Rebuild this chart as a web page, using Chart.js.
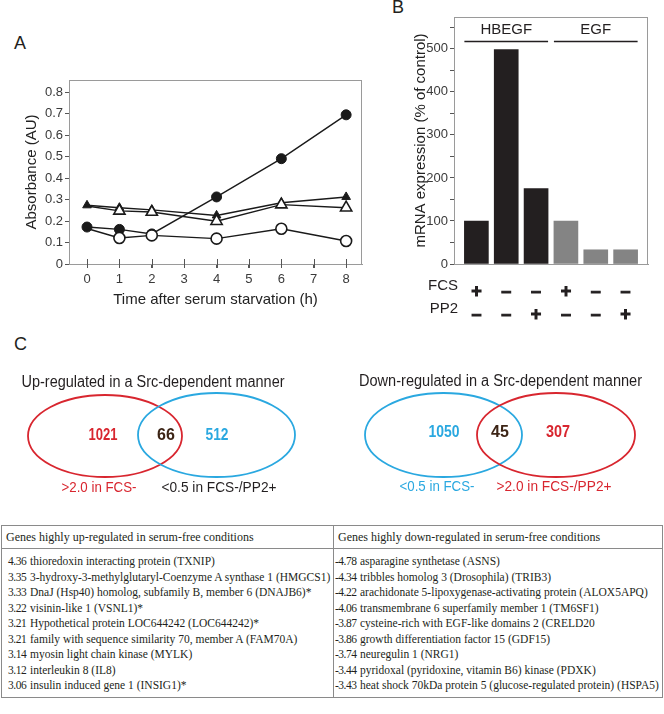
<!DOCTYPE html>
<html>
<head>
<meta charset="utf-8">
<script src="https://cdn.jsdelivr.net/npm/chart.js@4.4.1/dist/chart.umd.min.js"></script>
<style>
  html, body { margin: 0; padding: 0; background: #fff; }
  body { width: 664px; height: 714px; position: relative; overflow: hidden;
         font-family: 'Liberation Sans', Arial, sans-serif; color: #231f20; }
  canvas { position: absolute; }
  #absorb { left: 0; top: 0; }
  #mrna { left: 340px; top: 0; }
  #venn { left: 0; top: 330px; }
  .panel { position: absolute; font-size: 18px; line-height: 18px; }
  #genes { position: absolute; left: 1px; top: 525px; width: 662px; border-collapse: collapse;
           table-layout: fixed;
           font-family: 'Liberation Serif', 'Times New Roman', serif; font-size: 11.5px; color: #231f20; }
  #genes th { text-align: left; font-weight: normal; height: 22px; padding: 0 0 0 4px;
              border: 1px solid #8a8a8a; font-size: 12px; overflow: hidden; white-space: nowrap; }
  #genes td { vertical-align: top; padding: 5px 0 0 0; height: 143px;
              border: 1px solid #8a8a8a; white-space: nowrap; overflow: hidden; }
  #genes .row { line-height: 15.5px; }
  #genes .num { display: inline-block; letter-spacing: -0.5px; }
  #upCol .row { padding-left: 6px; }
  #upCol .num { width: 22px; }
  #downCol .row { padding-left: 1px; }
  #downCol .num { width: 25px; }
</style>
</head>
<body>
<div class="panel" style="left:14px;top:34px">A</div>
<div class="panel" style="left:392px;top:-2px">B</div>
<div class="panel" style="left:14px;top:335px">C</div>

<canvas id="absorb" width="380" height="320"></canvas>
<canvas id="mrna" width="324" height="320"></canvas>
<canvas id="venn" width="664" height="180"></canvas>

<table id="genes">
  <colgroup><col style="width:332px"><col></colgroup>
  <tr><th>Genes highly up-regulated in serum-free conditions</th>
      <th>Genes highly down-regulated in serum-free conditions</th></tr>
  <tr><td id="upCol"></td><td id="downCol"></td></tr>
</table>

<script>
// ---- Panel A: absorbance over time ----
const hours = [0, 1, 2, 4, 6, 8];
const absFilledCircle = [0.172, 0.161, 0.14, 0.312, 0.49, 0.694];
const absOpenCircle = [0.165, 0.121, 0.133, 0.118, 0.164, 0.107];
const absFilledTriangle = [0.273, 0.262, 0.252, 0.226, 0.285, 0.312];
const absOpenTriangle = [0.27, 0.247, 0.242, 0.199, 0.276, 0.262];

// ---- Panel B: mRNA expression ----
const geneGroups = ['HBEGF', 'HBEGF', 'HBEGF', 'EGF', 'EGF', 'EGF'];
const expression = [100, 498, 175, 100, 33, 33];
const fcsRow = ['+', '–', '–', '+', '–', '–'];
const pp2Row = ['–', '–', '+', '–', '–', '+'];

// ---- Panel C: Venn counts ----
const upCounts = [1021, 66, 512];
const upSetLabels = ['>2.0 in FCS-', '<0.5 in FCS-/PP2+'];
const downCounts = [1050, 45, 307];
const downSetLabels = ['<0.5 in FCS-', '>2.0 in FCS-/PP2+'];

// ---- Gene table ----
const upScores = ['4.36', '3.35', '3.33', '3.22', '3.21', '3.21', '3.14', '3.12', '3.06'];
const upGenes = [
  'thioredoxin interacting protein (TXNIP)',
  '3-hydroxy-3-methylglutaryl-Coenzyme A synthase 1 (HMGCS1)',
  'DnaJ (Hsp40) homolog, subfamily B, member 6 (DNAJB6)*',
  'visinin-like 1 (VSNL1)*',
  'Hypothetical protein LOC644242 (LOC644242)*',
  'family with sequence similarity 70, member A (FAM70A)',
  'myosin light chain kinase (MYLK)',
  'interleukin 8 (IL8)',
  'insulin induced gene 1 (INSIG1)*'
];
const downScores = ['-4.78', '-4.34', '-4.22', '-4.06', '-3.87', '-3.86', '-3.74', '-3.44', '-3.43'];
const downGenes = [
  'asparagine synthetase (ASNS)',
  'tribbles homolog 3 (Drosophila) (TRIB3)',
  'arachidonate 5-lipoxygenase-activating protein (ALOX5APQ)',
  'transmembrane 6 superfamily member 1 (TM6SF1)',
  'cysteine-rich with EGF-like domains 2 (CRELD20',
  'growth differentiation factor 15 (GDF15)',
  'neuregulin 1 (NRG1)',
  'pyridoxal (pyridoxine, vitamin B6) kinase (PDXK)',
  'heat shock 70kDa protein 5 (glucose-regulated protein) (HSPA5)'
];

const INK = '#1a1a1a';
const AXIS = '#9a9a9a';
const TICK_TXT = '#3a3a3a';

// draws the grey box round the plot area
const framePlugin = {
  id: 'frame',
  afterDraw(chart) {
    const { ctx, chartArea: a } = chart;
    ctx.save();
    ctx.strokeStyle = AXIS;
    ctx.lineWidth = 1;
    ctx.strokeRect(a.left + 0.5, a.top + 0.5, a.right - a.left - 1, a.bottom - a.top);
    ctx.restore();
  }
};

// ticks on the time axis cross the axis line
const crossTicks = {
  id: 'crossTicks',
  afterDraw(chart) {
    const { ctx, scales: { x } } = chart;
    ctx.save();
    ctx.strokeStyle = '#555';
    ctx.lineWidth = 1;
    x.ticks.forEach(t => {
      const px = Math.round(x.getPixelForValue(t.value)) + 0.5;
      ctx.beginPath();
      ctx.moveTo(px, x.top - 5);
      ctx.lineTo(px, x.top + 4);
      ctx.stroke();
    });
    ctx.restore();
  }
};

function series(values, style, filled, order, radius) {
  return {
    data: hours.map((h, i) => ({ x: h, y: values[i] })),
    borderColor: INK,
    borderWidth: 1.4,
    pointStyle: style,
    pointRadius: radius,
    pointBackgroundColor: filled ? INK : '#fff',
    pointBorderColor: INK,
    pointBorderWidth: filled ? 1 : 1.6,
    order: order
  };
}

new Chart(document.getElementById('absorb'), {
  type: 'line',
  data: {
    datasets: [
      // open symbols sit above the filled ones; their 0 h point hides under the filled one
      series(absOpenCircle, 'circle', false, 0, [0, 5.5, 5.5, 5.5, 5.5, 5.5]),
      series(absOpenTriangle, 'triangle', false, 1, [0, 6.5, 6.5, 6.5, 6.5, 6.5]),
      series(absFilledCircle, 'circle', true, 2, 5),
      series(absFilledTriangle, 'triangle', true, 3, 5)
    ]
  },
  options: {
    responsive: false,
    animation: false,
    layout: { padding: { top: 80, right: 18, left: 0, bottom: 0 } },
    plugins: { legend: { display: false }, tooltip: { enabled: false } },
    scales: {
      x: {
        type: 'linear', min: -0.556, max: 8.49,
        ticks: { stepSize: 1, includeBounds: false, color: TICK_TXT, font: { size: 13 }, padding: 4 },
        grid: { drawOnChartArea: false, tickLength: 4, color: '#555' },
        border: { color: AXIS },
        title: { display: true, text: 'Time after serum starvation (h)', color: '#222',
                 font: { size: 15 }, padding: { bottom: 11 } },
        afterFit: s => { s.height = 56; }
      },
      y: {
        min: 0, max: 0.856,
        ticks: { stepSize: 0.1, includeBounds: false, color: TICK_TXT, font: { size: 13 }, padding: 2 },
        grid: { drawOnChartArea: false, tickLength: 4, color: '#555' },
        border: { color: AXIS },
        title: { display: true, text: 'Absorbance (AU)', color: '#222',
                 font: { size: 15 }, padding: { top: 23 } },
        afterFit: s => { s.width = 69; }
      }
    }
  },
  plugins: [framePlugin, crossTicks]
});

// ---- Panel B ----
const barColors = { HBEGF: '#231f20', EGF: '#848484' };
const TICK_PAD = 9;
const ROW_H = 23;

const groupLabels = {
  id: 'groupLabels',
  afterDraw(chart) {
    const { ctx, scales: { x } } = chart;
    ctx.save();
    ctx.fillStyle = '#231f20';
    ctx.strokeStyle = '#231f20';
    ctx.font = '15px "Liberation Sans", Arial, sans-serif';
    ctx.textAlign = 'center';
    ctx.textBaseline = 'middle';
    [...new Set(geneGroups)].forEach(g => {
      const first = geneGroups.indexOf(g);
      const last = geneGroups.lastIndexOf(g);
      const xl = x.getPixelForValue(first + 1) - 12;
      const xr = x.getPixelForValue(last + 1) + 12;
      ctx.fillText(g, (xl + xr) / 2, 30);
      ctx.lineWidth = 1.6;
      ctx.beginPath();
      ctx.moveTo(xl, 41.5);
      ctx.lineTo(xr, 41.5);
      ctx.stroke();
    });
    // row headers for the treatment signs
    ctx.textAlign = 'right';
    ['FCS', 'PP2'].forEach((name, i) => {
      ctx.fillText(name, chart.chartArea.left + 4, x.top + TICK_PAD + ROW_H * (i + 0.5) + 1);
    });
    ctx.restore();
  }
};

new Chart(document.getElementById('mrna'), {
  type: 'bar',
  data: {
    datasets: [{
      data: expression.map((v, i) => ({ x: i + 1, y: v })),
      backgroundColor: geneGroups.map(g => barColors[g]),
      borderWidth: 0,
      barThickness: 24
    }]
  },
  options: {
    responsive: false,
    animation: false,
    layout: { padding: { top: 17, right: 16, left: 0, bottom: 0 } },
    plugins: { legend: { display: false }, tooltip: { enabled: false } },
    scales: {
      x: {
        type: 'linear', min: 0.25, max: 6.75, offset: false,
        ticks: {
          stepSize: 1, includeBounds: false, autoSkip: false, maxRotation: 0,
          color: '#231f20', font: { size: 18, weight: 'bold', lineHeight: ROW_H / 18 },
          textStrokeColor: '#231f20', textStrokeWidth: 1,
          padding: TICK_PAD,
          callback: v => (v >= 1 && v <= 6 ? [fcsRow[v - 1], pp2Row[v - 1]] : '')
        },
        grid: { display: false, offset: false },
        border: { color: AXIS },
        afterFit: s => { s.height = 56; }
      },
      y: {
        min: 0, max: 574,
        ticks: { stepSize: 50, includeBounds: false, autoSkip: false, color: TICK_TXT,
                 font: { size: 13 }, padding: 2,
                 callback: v => (v % 100 === 0 ? v : '') },
        grid: { drawOnChartArea: false, tickLength: 4, color: '#555' },
        border: { color: AXIS },
        title: { display: true, text: 'mRNA expression (% of control)', color: '#222',
                 font: { size: 15 }, padding: { top: 72 } },
        afterFit: s => { s.width = 114; }
      }
    }
  },
  plugins: [framePlugin, groupLabels]
});

// ---- Panel C: Venn diagrams ----
const RED = '#d8262f';
const BLUE = '#2aa8e0';
const MID = '#3c2415';
const SANS = '"Liberation Sans", Arial, sans-serif';

function ellipse(ctx, cx, cy, rx, ry, color) {
  ctx.strokeStyle = color;
  ctx.lineWidth = 1.8;
  ctx.beginPath();
  ctx.ellipse(cx, cy, rx, ry, 0, 0, Math.PI * 2);
  ctx.stroke();
}

function text(ctx, str, x, y, font, color, width) {
  ctx.font = font;
  ctx.fillStyle = color;
  ctx.fillText(str, x, y, width);
}

const vennPlugin = {
  id: 'venn',
  afterDraw(chart) {
    const ctx = chart.ctx;
    ctx.save();
    ctx.textAlign = 'center';
    ctx.textBaseline = 'middle';

    // up-regulated
    text(ctx, 'Up-regulated in a Src-dependent manner', 153, 53, '16px ' + SANS, '#231f20', 263);
    ellipse(ctx, 105, 106, 77, 41, RED);
    ellipse(ctx, 216.5, 105, 78.5, 42, BLUE);
    text(ctx, String(upCounts[0]), 103, 106, 'bold 16px ' + SANS, RED, 29);
    text(ctx, String(upCounts[1]), 166, 106, 'bold 16px ' + SANS, MID, 18);
    text(ctx, String(upCounts[2]), 217, 106, 'bold 16px ' + SANS, BLUE, 23);
    text(ctx, upSetLabels[0], 99, 158, '15px ' + SANS, RED, 75);
    text(ctx, upSetLabels[1], 219, 158, '15px ' + SANS, '#231f20', 115);

    // down-regulated
    text(ctx, 'Down-regulated in a Src-dependent manner', 500.5, 52, '16px ' + SANS, '#231f20', 283);
    ellipse(ctx, 443.5, 105, 78.5, 42, BLUE);
    ellipse(ctx, 556, 105, 79, 42, RED);
    text(ctx, String(downCounts[0]), 444, 103, 'bold 16px ' + SANS, BLUE, 31);
    text(ctx, String(downCounts[1]), 500, 103, 'bold 16px ' + SANS, MID, 18);
    text(ctx, String(downCounts[2]), 558, 103, 'bold 16px ' + SANS, RED, 24);
    text(ctx, downSetLabels[0], 437, 157, '15px ' + SANS, BLUE, 75);
    text(ctx, downSetLabels[1], 554, 157, '15px ' + SANS, RED, 115);
    ctx.restore();
  }
};

new Chart(document.getElementById('venn'), {
  type: 'scatter',
  data: { datasets: [] },
  options: {
    responsive: false,
    animation: false,
    plugins: { legend: { display: false }, tooltip: { enabled: false } },
    scales: { x: { display: false }, y: { display: false } }
  },
  plugins: [vennPlugin]
});

// ---- table rows ----
function fillColumn(id, scores, genes) {
  const col = document.getElementById(id);
  scores.forEach((s, i) => {
    const row = document.createElement('div');
    row.className = 'row';
    const num = document.createElement('span');
    num.className = 'num';
    num.textContent = s;
    row.appendChild(num);
    row.appendChild(document.createTextNode(genes[i]));
    col.appendChild(row);
  });
}
fillColumn('upCol', upScores, upGenes);
fillColumn('downCol', downScores, downGenes);
</script>
</body>
</html>
